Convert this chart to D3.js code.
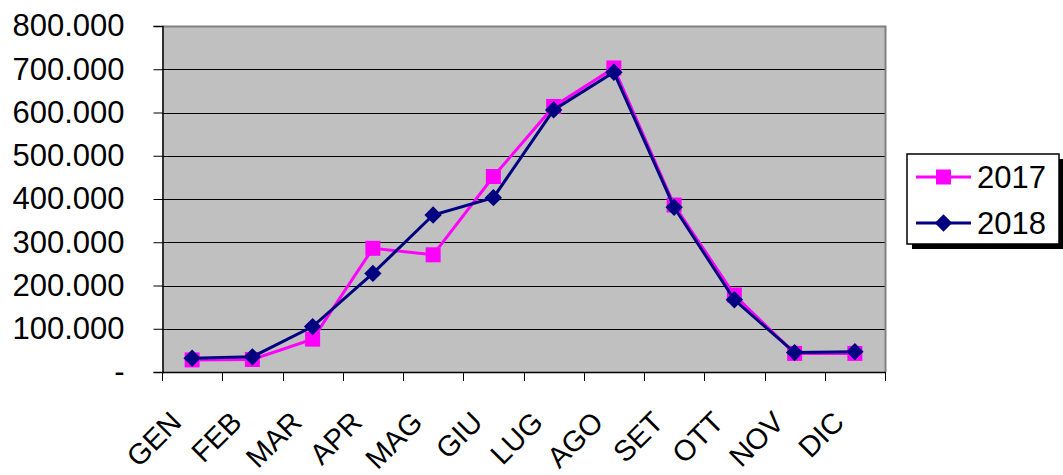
<!DOCTYPE html>
<html>
<head>
<meta charset="utf-8">
<script src="https://cdn.jsdelivr.net/npm/d3@7"></script>
<style>
  html, body { margin: 0; padding: 0; background: #fff; }
  svg { display: block; font-family: "Liberation Sans", Arial, sans-serif; }
</style>
</head>
<body>
<svg id="chart" width="1063" height="475"></svg>
<script>
const months = ["GEN","FEB","MAR","APR","MAG","GIU","LUG","AGO","SET","OTT","NOV","DIC"];
const values2017 = [28000, 29000, 76000, 286000, 271000, 452000, 614000, 703000, 386000, 178000, 43000, 43000];
const values2018 = [32000, 35000, 105000, 228000, 363000, 403000, 606000, 693000, 381000, 167000, 45000, 47000];
const yTicks = [0, 100000, 200000, 300000, 400000, 500000, 600000, 700000, 800000];
const yTickLabels = ["-", "100.000", "200.000", "300.000", "400.000", "500.000", "600.000", "700.000", "800.000"];
const seriesNames = ["2017", "2018"];

const svg = d3.select("#chart");
const L = 162, R = 885, T = 26, B = 372;
const FONT = 31;
const XFONT = 29;

const x = d3.scaleBand().domain(months).range([L, R]).padding(0);
const y = d3.scaleLinear().domain([0, 800000]).range([B, T]);

// plot background
svg.append("rect").attr("x", L).attr("y", T).attr("width", R - L).attr("height", B - T)
  .attr("fill", "#C0C0C0");

// gridlines
svg.append("g").selectAll("line").data(yTicks.slice(1, -1)).join("line")
  .attr("x1", L).attr("x2", R)
  .attr("y1", d => Math.round(y(d)) + 0.5).attr("y2", d => Math.round(y(d)) + 0.5)
  .attr("stroke", "#000").attr("stroke-width", 1);

// plot border top & right (gray)
svg.append("path")
  .attr("d", `M${L},${T + 0.5}H${R + 0.5}V${B}`)
  .attr("fill", "none").attr("stroke", "#808080").attr("stroke-width", 2);

// Y axis
const yAxis = d3.axisLeft(y).tickValues(yTicks)
  .tickFormat((d, i) => yTickLabels[i]).tickSize(9).tickPadding(29);
const gy = svg.append("g").attr("transform", `translate(${L + 0.5},0)`).call(yAxis);
gy.select(".domain").attr("stroke", "#000").attr("stroke-width", 1.5);
gy.selectAll(".tick line").attr("stroke", "#000");
gy.selectAll(".tick text").attr("font-size", FONT).attr("fill", "#000")
  .attr("font-family", "Liberation Sans, Arial, sans-serif");

// X axis: ticks at category boundaries
const boundaries = months.map(m => x(m)).concat([R]);
const gx = svg.append("g");
gx.append("line").attr("x1", L).attr("x2", R + 0.5).attr("y1", B + 0.5).attr("y2", B + 0.5)
  .attr("stroke", "#000").attr("stroke-width", 1.5);
gx.selectAll("line.tk").data(boundaries).join("line").attr("class", "tk")
  .attr("x1", d => Math.round(d) + 0.5).attr("x2", d => Math.round(d) + 0.5)
  .attr("y1", B).attr("y2", B + 9).attr("stroke", "#000");
gx.selectAll("text").data(months).join("text")
  .attr("transform", d => `translate(${x(d) + x.bandwidth() / 2 - 9},${424}) rotate(-45)`)
  .attr("text-anchor", "end").attr("font-size", XFONT).attr("fill", "#000")
  .text(d => d);

// lines
const cx = (d, i) => x(months[i]) + x.bandwidth() / 2;
const line = d3.line().x((d, i) => cx(d, i)).y(d => y(d));

svg.append("path").datum(values2017).attr("d", line)
  .attr("fill", "none").attr("stroke", "#FF00FF").attr("stroke-width", 3);
svg.append("g").selectAll("rect").data(values2017).join("rect")
  .attr("x", (d, i) => cx(d, i) - 7.5).attr("y", d => y(d) - 7.5)
  .attr("width", 15).attr("height", 15).attr("fill", "#FF00FF");

svg.append("path").datum(values2018).attr("d", line)
  .attr("fill", "none").attr("stroke", "#000080").attr("stroke-width", 3);
const diamond = d3.symbol().type(d3.symbolSquare).size(150);
svg.append("g").selectAll("path").data(values2018).join("path")
  .attr("d", diamond)
  .attr("transform", (d, i) => `translate(${cx(d, i)},${y(d)}) rotate(45)`)
  .attr("fill", "#000080");

// Legend
const lg = svg.append("g");
lg.append("rect").attr("x", 912).attr("y", 159).attr("width", 152).attr("height", 90).attr("fill", "#000");
lg.append("rect").attr("x", 907).attr("y", 154).attr("width", 152).attr("height", 90)
  .attr("fill", "#fff").attr("stroke", "#000").attr("stroke-width", 1.5);
const legendRows = [
  { name: seriesNames[0], color: "#FF00FF", shape: "square", y: 177 },
  { name: seriesNames[1], color: "#000080", shape: "diamond", y: 223 }
];
legendRows.forEach(r => {
  lg.append("line").attr("x1", 916).attr("x2", 971).attr("y1", r.y).attr("y2", r.y)
    .attr("stroke", r.color).attr("stroke-width", 3);
  if (r.shape === "square") {
    lg.append("rect").attr("x", 943.5 - 7.5).attr("y", r.y - 7.5).attr("width", 15).attr("height", 15)
      .attr("fill", r.color);
  } else {
    lg.append("path").attr("d", diamond)
      .attr("transform", `translate(943.5,${r.y}) rotate(45)`).attr("fill", r.color);
  }
  lg.append("text").attr("x", 977).attr("y", r.y).attr("dy", "0.35em")
    .attr("font-size", FONT).attr("fill", "#000").text(r.name);
});
</script>
</body>
</html>
